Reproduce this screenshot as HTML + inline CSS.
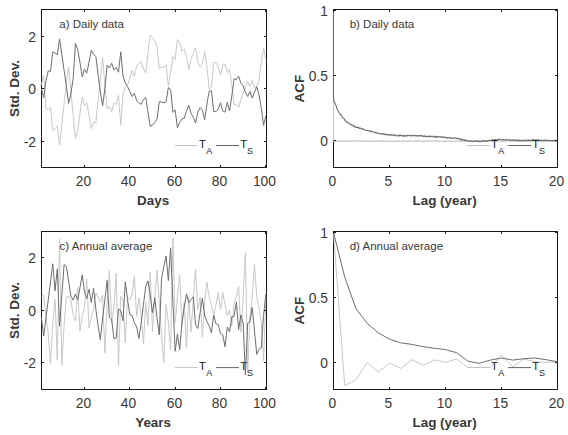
<!DOCTYPE html>
<html><head><meta charset="utf-8"><style>
html,body{margin:0;padding:0;background:#fff;width:568px;height:435px;overflow:hidden}
svg{display:block}
text{font-family:"Liberation Sans",sans-serif}
</style></head><body>
<svg width="568" height="435" viewBox="0 0 568 435">
<rect width="568" height="435" fill="#fff"/>
<rect x="41.5" y="9.5" width="225.00" height="158.00" fill="none" stroke="#1a1a1a" stroke-width="1"/>
<rect x="333.5" y="9.5" width="224.00" height="158.00" fill="none" stroke="#1a1a1a" stroke-width="1"/>
<rect x="41.5" y="231.5" width="225.00" height="158.00" fill="none" stroke="#1a1a1a" stroke-width="1"/>
<rect x="333.5" y="231.5" width="224.00" height="158.00" fill="none" stroke="#1a1a1a" stroke-width="1"/>
<polyline points="41.43,84.56 43.70,75.38 45.96,108.66 48.23,109.42 50.50,107.24 52.76,130.37 55.03,128.40 57.30,126.19 59.56,145.20 61.83,124.44 64.10,103.65 66.36,82.86 68.63,66.87 70.90,91.12 73.16,115.38 75.43,138.16 77.70,130.81 79.96,113.44 82.23,97.06 84.50,105.46 86.76,102.67 89.03,115.64 91.30,128.61 93.56,122.28 95.83,122.57 98.10,101.07 100.36,79.42 102.63,57.76 104.90,85.61 107.16,109.16 109.43,106.53 111.70,111.65 113.96,103.15 116.23,104.43 118.50,95.35 120.76,124.72 123.03,94.25 125.30,86.35 127.56,84.85 129.83,78.00 132.10,70.20 134.36,76.14 136.63,66.11 138.90,63.12 141.16,61.75 143.43,69.00 145.70,72.80 147.96,53.61 150.23,35.13 152.50,37.42 154.76,41.12 157.03,47.05 159.30,68.52 161.56,67.26 163.83,67.76 166.10,64.69 168.36,86.06 170.63,72.20 172.90,56.42 175.16,59.34 177.43,39.54 179.70,41.88 181.96,51.22 184.23,48.84 186.50,56.79 188.76,69.23 191.03,58.99 193.30,53.40 195.56,47.73 197.83,61.46 200.10,67.11 202.36,64.22 204.63,51.33 206.90,65.92 209.16,88.63 211.43,87.48 213.70,62.54 215.96,62.67 218.23,66.61 220.50,75.19 222.76,65.24 225.03,63.85 227.30,72.62 229.56,69.15 231.83,85.51 234.10,104.46 236.36,104.33 238.63,107.35 240.90,99.42 243.16,93.23 245.43,88.03 247.70,81.18 249.96,86.72 252.23,80.34 254.50,87.92 256.76,86.22 259.03,80.76 261.30,62.33 263.56,48.26 265.83,58.97" fill="none" stroke="#c8c8c8" stroke-width="1.0" stroke-linejoin="round"/>
<polyline points="41.43,88.50 43.70,97.69 45.96,80.68 48.23,70.86 50.50,71.28 52.76,51.80 55.03,53.01 57.30,54.90 59.56,38.89 61.83,54.64 64.10,70.39 66.36,86.14 68.63,103.46 70.90,93.62 73.16,78.52 75.43,43.59 77.70,49.26 79.96,62.54 82.23,76.85 84.50,69.02 86.76,73.17 89.03,62.12 91.30,50.20 93.56,54.30 95.83,56.40 98.10,74.72 100.36,91.99 102.63,105.93 104.90,88.34 107.16,65.14 109.43,68.00 111.70,63.22 113.96,69.99 116.23,67.34 118.50,72.22 120.76,51.80 123.03,75.98 125.30,83.01 127.56,86.61 129.83,91.57 132.10,96.56 134.36,93.23 136.63,100.60 138.90,102.70 141.16,104.28 143.43,99.60 145.70,97.50 147.96,111.89 150.23,126.27 152.50,125.14 154.76,122.36 157.03,119.03 159.30,101.65 161.56,102.02 163.83,102.83 166.10,101.70 168.36,87.53 170.63,89.42 172.90,112.36 175.16,109.95 177.43,127.80 179.70,122.49 181.96,118.95 184.23,118.40 186.50,110.94 188.76,105.35 191.03,113.33 193.30,117.32 195.56,122.89 197.83,112.44 200.10,107.48 202.36,110.08 204.63,119.74 206.90,104.12 209.16,91.20 211.43,90.76 213.70,111.55 215.96,111.65 218.23,108.92 220.50,102.67 222.76,111.10 225.03,112.15 227.30,102.31 229.56,111.02 231.83,95.59 234.10,78.84 236.36,79.63 238.63,76.19 240.90,83.09 243.16,85.77 245.43,92.41 247.70,96.45 249.96,91.49 252.23,98.13 254.50,92.10 256.76,86.72 259.03,95.04 261.30,108.19 263.56,125.41 265.83,115.59" fill="none" stroke="#6e6e6e" stroke-width="1.0" stroke-linejoin="round"/>
<line x1="84.50" y1="167.5" x2="84.50" y2="165.0" stroke="#1a1a1a" stroke-width="1"/>
<line x1="84.50" y1="9.5" x2="84.50" y2="12.0" stroke="#1a1a1a" stroke-width="1"/>
<text x="83.40" y="186.1" text-anchor="middle" font-size="13.8" fill="#383838">20</text>
<line x1="129.50" y1="167.5" x2="129.50" y2="165.0" stroke="#1a1a1a" stroke-width="1"/>
<line x1="129.50" y1="9.5" x2="129.50" y2="12.0" stroke="#1a1a1a" stroke-width="1"/>
<text x="128.40" y="186.1" text-anchor="middle" font-size="13.8" fill="#383838">40</text>
<line x1="175.50" y1="167.5" x2="175.50" y2="165.0" stroke="#1a1a1a" stroke-width="1"/>
<line x1="175.50" y1="9.5" x2="175.50" y2="12.0" stroke="#1a1a1a" stroke-width="1"/>
<text x="174.40" y="186.1" text-anchor="middle" font-size="13.8" fill="#383838">60</text>
<line x1="220.50" y1="167.5" x2="220.50" y2="165.0" stroke="#1a1a1a" stroke-width="1"/>
<line x1="220.50" y1="9.5" x2="220.50" y2="12.0" stroke="#1a1a1a" stroke-width="1"/>
<text x="219.40" y="186.1" text-anchor="middle" font-size="13.8" fill="#383838">80</text>
<line x1="265.50" y1="167.5" x2="265.50" y2="165.0" stroke="#1a1a1a" stroke-width="1"/>
<line x1="265.50" y1="9.5" x2="265.50" y2="12.0" stroke="#1a1a1a" stroke-width="1"/>
<text x="264.40" y="186.1" text-anchor="middle" font-size="13.8" fill="#383838">100</text>
<line x1="41.5" y1="141.50" x2="44.0" y2="141.50" stroke="#1a1a1a" stroke-width="1"/>
<line x1="266.5" y1="141.50" x2="264.0" y2="141.50" stroke="#1a1a1a" stroke-width="1"/>
<text x="36.0" y="146.90" text-anchor="end" font-size="13.8" fill="#383838">-2</text>
<line x1="41.5" y1="88.50" x2="44.0" y2="88.50" stroke="#1a1a1a" stroke-width="1"/>
<line x1="266.5" y1="88.50" x2="264.0" y2="88.50" stroke="#1a1a1a" stroke-width="1"/>
<text x="36.0" y="93.90" text-anchor="end" font-size="13.8" fill="#383838">0</text>
<line x1="41.5" y1="36.50" x2="44.0" y2="36.50" stroke="#1a1a1a" stroke-width="1"/>
<line x1="266.5" y1="36.50" x2="264.0" y2="36.50" stroke="#1a1a1a" stroke-width="1"/>
<text x="36.0" y="41.90" text-anchor="end" font-size="13.8" fill="#383838">2</text>
<text x="59.3" y="27.7" font-size="11.5" fill="#383838">a) Daily data</text>
<text x="153.10" y="205.0" text-anchor="middle" font-size="13.4" font-weight="bold" fill="#383838">Days</text>
<text transform="translate(19.2,88.50) rotate(-90)" text-anchor="middle" font-size="13.5" font-weight="bold" fill="#383838">Std. Dev.</text>
<line x1="175" y1="145.5" x2="197.6" y2="145.5" stroke="#c4c4c4" stroke-width="1"/>
<text x="199" y="148.0" font-size="11.3" fill="#222">T</text>
<text x="206.2" y="153.5" font-size="9" fill="#262626">A</text>
<line x1="216" y1="145.5" x2="239" y2="145.5" stroke="#646464" stroke-width="1"/>
<text x="240.2" y="148.0" font-size="11.3" fill="#222">T</text>
<text x="247" y="153.5" font-size="9" fill="#262626">S</text>
<polyline points="333.50,10.50 333.51,141.20 333.61,141.47 334.06,141.15 334.51,141.33 334.96,141.09 335.40,141.07 335.85,141.65 336.30,141.70 336.75,140.85 337.20,141.45 337.64,141.47 338.09,140.68 338.54,141.23 338.99,140.85 339.44,141.22 339.88,141.05 340.33,141.56 340.78,141.05 341.23,140.81 341.68,141.17 342.12,140.94 342.57,141.01 343.02,141.64 343.47,140.92 343.92,141.10 344.36,141.40 344.81,141.68 345.26,140.81 345.71,141.22 346.16,140.96 346.60,140.79 347.05,140.97 347.50,140.75 347.95,141.30 348.40,140.87 348.84,141.24 349.29,140.73 349.74,140.79 350.19,141.60 350.64,141.56 351.08,141.48 351.53,140.70 351.98,141.25 352.43,141.05 352.88,141.39 353.32,141.17 353.77,141.30 354.22,141.34 354.67,141.09 355.12,141.09 355.56,140.76 356.01,140.99 356.46,140.73 356.91,140.81 357.36,140.67 357.80,141.00 358.25,141.53 358.70,140.80 359.15,140.69 359.60,140.76 360.04,141.10 360.49,140.95 360.94,141.48 361.39,140.83 361.84,141.10 362.28,141.40 362.73,141.63 363.18,140.81 363.63,140.66 364.08,141.60 364.52,140.86 364.97,141.27 365.42,141.53 365.87,141.39 366.32,140.89 366.76,140.78 367.21,141.64 367.66,141.05 368.11,141.64 368.56,140.94 369.00,141.34 369.45,140.77 369.90,140.67 370.35,141.16 370.80,140.65 371.24,141.36 371.69,141.61 372.14,141.06 372.59,141.65 373.04,141.48 373.48,141.26 373.93,141.05 374.38,141.52 374.83,141.64 375.28,140.78 375.72,141.36 376.17,140.68 376.62,140.75 377.07,141.29 377.52,141.20 377.96,141.14 378.41,141.01 378.86,141.06 379.31,141.10 379.76,141.03 380.20,140.70 380.65,141.15 381.10,141.23 381.55,140.93 382.00,141.43 382.44,141.36 382.89,140.66 383.34,141.13 383.79,141.10 384.24,141.66 384.68,141.24 385.13,141.07 385.58,141.65 386.03,141.03 386.48,141.02 386.92,141.61 387.37,141.02 387.82,141.19 388.27,140.96 388.72,141.30 389.16,140.94 389.61,140.90 390.06,141.65 390.51,141.61 390.96,140.97 391.40,140.67 391.85,141.41 392.30,141.19 392.75,141.05 393.20,141.33 393.64,141.29 394.09,141.34 394.54,141.28 394.99,141.05 395.44,141.35 395.88,141.27 396.33,140.86 396.78,141.64 397.23,141.07 397.68,140.90 398.12,141.34 398.57,141.43 399.02,140.83 399.47,141.41 399.92,141.47 400.36,141.21 400.81,140.93 401.26,141.55 401.71,141.32 402.16,141.31 402.60,140.79 403.05,141.20 403.50,140.77 403.95,141.48 404.40,141.31 404.84,140.98 405.29,140.74 405.74,141.19 406.19,141.42 406.64,141.53 407.08,141.10 407.53,141.46 407.98,140.81 408.43,140.78 408.88,141.46 409.32,141.36 409.77,140.81 410.22,140.98 410.67,140.81 411.12,141.29 411.56,141.52 412.01,141.35 412.46,140.82 412.91,141.37 413.36,141.29 413.80,141.21 414.25,141.21 414.70,141.22 415.15,140.69 415.60,141.48 416.04,141.64 416.49,140.66 416.94,140.73 417.39,140.62 417.84,141.19 418.28,140.66 418.73,140.68 419.18,141.41 419.63,140.87 420.08,140.77 420.52,140.95 420.97,141.10 421.42,141.34 421.87,141.29 422.32,141.40 422.76,141.57 423.21,141.03 423.66,141.34 424.11,140.80 424.56,141.59 425.00,140.70 425.45,140.92 425.90,140.68 426.35,140.70 426.80,140.70 427.24,141.04 427.69,141.62 428.14,140.86 428.59,141.46 429.04,141.32 429.48,140.94 429.93,141.09 430.38,141.20 430.83,140.66 431.28,141.00 431.72,141.28 432.17,141.37 432.62,140.74 433.07,141.13 433.52,140.82 433.96,141.26 434.41,141.42 434.86,141.07 435.31,140.78 435.76,141.45 436.20,140.80 436.65,140.67 437.10,140.79 437.55,140.77 438.00,141.62 438.44,140.97 438.89,140.73 439.34,141.57 439.79,141.34 440.24,141.35 440.68,141.08 441.13,141.18 441.58,141.13 442.03,140.82 442.48,141.62 442.92,141.57 443.37,141.49 443.82,141.49 444.27,141.55 444.72,140.61 445.16,140.73 445.61,141.53 446.06,141.10 446.51,141.29 446.96,141.29 447.40,141.25 447.85,140.95 448.30,141.01 448.75,141.24 449.20,141.42 449.64,141.27 450.09,141.49 450.54,141.04 450.99,140.87 451.44,141.22 451.88,141.53 452.33,141.43 452.78,141.23 453.23,140.98 453.68,140.80 454.12,141.22 454.57,140.78 455.02,140.96 455.47,141.16 455.92,141.22 456.36,141.09 456.81,140.88 457.26,141.17 457.71,140.89 458.16,141.13 458.60,141.35 459.05,141.05 459.50,140.88 459.95,141.53 460.40,141.16 460.84,141.16 461.29,140.69 461.74,140.63 462.19,141.22 462.64,140.67 463.08,140.78 463.53,141.33 463.98,141.12 464.43,141.47 464.88,140.76 465.32,140.91 465.77,140.68 466.22,140.78 466.67,140.91 467.12,140.84 467.56,141.01 468.01,141.49 468.46,140.99 468.91,141.59 469.36,141.45 469.80,140.79 470.25,141.55 470.70,141.50 471.15,141.49 471.60,140.68 472.04,141.41 472.49,141.57 472.94,140.72 473.39,141.47 473.84,140.72 474.28,140.89 474.73,140.72 475.18,140.60 475.63,140.99 476.08,140.76 476.52,141.55 476.97,140.79 477.42,141.06 477.87,140.85 478.32,141.48 478.76,140.81 479.21,140.62 479.66,141.53 480.11,141.25 480.56,141.00 481.00,140.73 481.45,141.34 481.90,141.40 482.35,141.33 482.80,140.95 483.24,140.80 483.69,141.18 484.14,141.20 484.59,141.17 485.04,141.22 485.48,141.15 485.93,141.50 486.38,141.06 486.83,140.57 487.28,141.15 487.72,140.80 488.17,141.41 488.62,140.86 489.07,140.79 489.52,140.88 489.96,141.04 490.41,141.08 490.86,140.91 491.31,140.65 491.76,141.42 492.20,141.48 492.65,140.80 493.10,140.62 493.55,141.04 494.00,141.12 494.44,140.83 494.89,141.38 495.34,141.30 495.79,141.37 496.24,140.97 496.68,141.25 497.13,141.33 497.58,140.85 498.03,140.58 498.48,141.26 498.92,140.84 499.37,141.14 499.82,140.68 500.27,140.96 500.72,141.29 501.16,141.34 501.61,141.55 502.06,141.07 502.51,141.17 502.96,141.39 503.40,141.19 503.85,141.23 504.30,140.76 504.75,141.42 505.20,140.54 505.64,141.07 506.09,140.94 506.54,141.08 506.99,140.70 507.44,140.71 507.88,140.98 508.33,141.06 508.78,140.81 509.23,140.67 509.68,141.15 510.12,140.80 510.57,140.56 511.02,141.08 511.47,141.32 511.92,141.32 512.36,140.81 512.81,140.86 513.26,140.56 513.71,140.67 514.16,141.31 514.60,141.36 515.05,141.29 515.50,141.36 515.95,140.82 516.40,140.66 516.84,140.62 517.29,141.29 517.74,140.66 518.19,141.23 518.64,141.11 519.08,140.80 519.53,141.46 519.98,141.46 520.43,140.69 520.88,141.25 521.32,141.18 521.77,140.95 522.22,140.85 522.67,141.54 523.12,141.20 523.56,141.10 524.01,141.04 524.46,141.33 524.91,140.94 525.36,140.56 525.80,141.14 526.25,140.98 526.70,141.42 527.15,141.26 527.60,140.85 528.04,141.43 528.49,140.62 528.94,140.60 529.39,141.44 529.84,140.57 530.28,141.16 530.73,140.74 531.18,140.76 531.63,141.24 532.08,140.84 532.52,140.86 532.97,140.70 533.42,141.27 533.87,140.76 534.32,140.54 534.76,140.84 535.21,140.98 535.66,141.42 536.11,141.03 536.56,141.17 537.00,140.79 537.45,140.83 537.90,140.95 538.35,141.35 538.80,140.87 539.24,140.88 539.69,141.35 540.14,140.61 540.59,140.85 541.04,141.41 541.48,140.57 541.93,141.39 542.38,141.19 542.83,140.78 543.28,140.91 543.72,140.96 544.17,140.86 544.62,141.06 545.07,141.21 545.52,141.35 545.96,141.46 546.41,140.79 546.86,140.74 547.31,140.96 547.76,140.76 548.20,141.15 548.65,141.25 549.10,141.13 549.55,140.62 550.00,141.48 550.44,141.00 550.89,141.27 551.34,140.73 551.79,141.16 552.24,141.18 552.68,141.10 553.13,140.96 553.58,140.72 554.03,141.16 554.48,140.64 554.92,141.41 555.37,141.24 555.82,141.42 556.27,141.40 556.72,140.71 557.16,140.76" fill="none" stroke="#c8c8c8" stroke-width="1.1" stroke-linejoin="round"/>
<polyline points="333.50,10.50 333.51,98.00 333.61,98.95 334.06,101.37 334.51,102.22 334.96,102.97 335.40,103.98 335.85,105.13 336.30,106.38 336.75,107.93 337.20,108.76 337.64,110.06 338.09,110.71 338.54,111.37 338.99,112.45 339.44,113.10 339.88,113.25 340.33,114.73 340.78,114.62 341.23,115.23 341.68,115.87 342.12,117.15 342.57,117.48 343.02,117.95 343.47,118.40 343.92,118.55 344.36,119.35 344.81,120.26 345.26,120.18 345.71,121.08 346.16,121.43 346.60,121.57 347.05,122.59 347.50,122.06 347.95,122.44 348.40,122.89 348.84,123.12 349.29,123.46 349.74,124.00 350.19,123.92 350.64,124.70 351.08,124.49 351.53,124.61 351.98,125.09 352.43,125.23 352.88,125.09 353.32,125.43 353.77,126.48 354.22,126.04 354.67,126.37 355.12,127.12 355.56,126.95 356.01,127.24 356.46,127.55 356.91,127.23 357.36,126.98 357.80,127.76 358.25,127.35 358.70,127.69 359.15,128.43 359.60,127.83 360.04,128.25 360.49,128.07 360.94,128.44 361.39,128.57 361.84,129.14 362.28,128.80 362.73,128.79 363.18,128.98 363.63,129.54 364.08,129.33 364.52,129.73 364.97,130.23 365.42,130.42 365.87,130.50 366.32,130.49 366.76,130.65 367.21,130.42 367.66,130.33 368.11,130.61 368.56,130.85 369.00,130.73 369.45,131.21 369.90,131.16 370.35,130.97 370.80,131.44 371.24,131.78 371.69,131.13 372.14,131.43 372.59,131.90 373.04,132.00 373.48,131.94 373.93,131.98 374.38,132.47 374.83,132.80 375.28,132.69 375.72,132.20 376.17,132.97 376.62,132.75 377.07,133.13 377.52,133.22 377.96,133.36 378.41,133.22 378.86,133.54 379.31,133.76 379.76,133.74 380.20,133.75 380.65,133.49 381.10,134.01 381.55,134.12 382.00,133.75 382.44,133.87 382.89,133.63 383.34,134.39 383.79,134.09 384.24,134.17 384.68,134.63 385.13,133.73 385.58,134.58 386.03,134.78 386.48,134.44 386.92,134.81 387.37,134.38 387.82,134.71 388.27,134.99 388.72,135.10 389.16,134.45 389.61,134.96 390.06,134.47 390.51,134.85 390.96,134.41 391.40,135.11 391.85,135.21 392.30,135.24 392.75,134.71 393.20,134.95 393.64,135.29 394.09,135.59 394.54,135.02 394.99,134.75 395.44,135.17 395.88,135.82 396.33,135.82 396.78,135.79 397.23,135.74 397.68,135.91 398.12,135.92 398.57,135.32 399.02,135.10 399.47,135.86 399.92,135.08 400.36,135.63 400.81,135.32 401.26,135.23 401.71,135.24 402.16,136.21 402.60,135.96 403.05,135.68 403.50,135.33 403.95,136.21 404.40,135.99 404.84,135.41 405.29,136.16 405.74,135.87 406.19,135.92 406.64,135.55 407.08,135.28 407.53,136.06 407.98,135.46 408.43,135.46 408.88,135.35 409.32,135.63 409.77,135.24 410.22,135.81 410.67,135.75 411.12,135.93 411.56,135.35 412.01,135.66 412.46,135.87 412.91,135.96 413.36,135.38 413.80,135.49 414.25,135.39 414.70,135.75 415.15,135.67 415.60,136.04 416.04,135.48 416.49,136.22 416.94,135.78 417.39,135.50 417.84,135.60 418.28,136.23 418.73,136.11 419.18,135.50 419.63,135.73 420.08,135.51 420.52,135.53 420.97,136.00 421.42,135.55 421.87,135.75 422.32,136.18 422.76,136.17 423.21,136.50 423.66,136.18 424.11,135.62 424.56,136.53 425.00,136.07 425.45,136.57 425.90,136.62 426.35,136.05 426.80,136.50 427.24,136.72 427.69,136.64 428.14,136.15 428.59,136.23 429.04,136.86 429.48,136.65 429.93,135.91 430.38,136.71 430.83,136.38 431.28,136.56 431.72,136.21 432.17,136.42 432.62,136.25 433.07,136.54 433.52,136.93 433.96,136.96 434.41,137.09 434.86,136.34 435.31,137.11 435.76,137.22 436.20,136.27 436.65,137.09 437.10,136.40 437.55,137.26 438.00,136.89 438.44,137.17 438.89,136.56 439.34,136.81 439.79,136.81 440.24,136.71 440.68,136.62 441.13,137.19 441.58,136.95 442.03,137.14 442.48,137.52 442.92,136.81 443.37,137.11 443.82,136.92 444.27,137.60 444.72,137.30 445.16,137.42 445.61,137.19 446.06,137.92 446.51,137.68 446.96,137.58 447.40,138.06 447.85,137.60 448.30,137.46 448.75,137.83 449.20,137.64 449.64,137.72 450.09,138.18 450.54,138.08 450.99,137.45 451.44,138.18 451.88,138.13 452.33,138.54 452.78,138.44 453.23,138.54 453.68,137.79 454.12,138.05 454.57,137.94 455.02,137.87 455.47,138.30 455.92,138.01 456.36,138.48 456.81,138.69 457.26,138.22 457.71,138.36 458.16,138.40 458.60,138.97 459.05,138.76 459.50,139.23 459.95,138.70 460.40,138.87 460.84,139.61 461.29,139.03 461.74,139.90 462.19,140.08 462.64,139.52 463.08,140.05 463.53,139.90 463.98,139.86 464.43,140.57 464.88,139.92 465.32,140.49 465.77,140.41 466.22,140.59 466.67,140.26 467.12,140.33 467.56,140.89 468.01,141.17 468.46,141.05 468.91,141.02 469.36,141.45 469.80,141.45 470.25,140.90 470.70,140.99 471.15,140.71 471.60,140.71 472.04,140.83 472.49,141.35 472.94,141.58 473.39,141.43 473.84,141.27 474.28,141.21 474.73,141.20 475.18,141.40 475.63,140.89 476.08,141.48 476.52,141.30 476.97,140.87 477.42,140.95 477.87,141.49 478.32,141.55 478.76,140.97 479.21,141.80 479.66,141.68 480.11,141.26 480.56,141.21 481.00,141.56 481.45,141.64 481.90,141.44 482.35,140.81 482.80,141.09 483.24,140.51 483.69,140.67 484.14,140.43 484.59,141.37 485.04,141.18 485.48,141.32 485.93,140.84 486.38,140.90 486.83,141.16 487.28,140.60 487.72,141.03 488.17,140.76 488.62,140.79 489.07,140.17 489.52,140.53 489.96,140.66 490.41,140.84 490.86,140.40 491.31,140.16 491.76,140.07 492.20,139.78 492.65,139.85 493.10,140.39 493.55,140.47 494.00,139.78 494.44,139.71 494.89,139.96 495.34,139.58 495.79,139.83 496.24,140.08 496.68,140.15 497.13,140.27 497.58,139.58 498.03,139.27 498.48,139.22 498.92,139.64 499.37,139.44 499.82,139.19 500.27,139.33 500.72,139.57 501.16,139.78 501.61,139.69 502.06,140.07 502.51,140.08 502.96,139.58 503.40,139.28 503.85,139.76 504.30,139.92 504.75,140.00 505.20,139.91 505.64,139.57 506.09,139.95 506.54,139.45 506.99,140.30 507.44,140.15 507.88,139.96 508.33,140.09 508.78,139.65 509.23,139.70 509.68,139.61 510.12,139.96 510.57,140.58 511.02,140.04 511.47,140.08 511.92,140.17 512.36,140.40 512.81,139.97 513.26,139.78 513.71,140.64 514.16,140.07 514.60,140.40 515.05,140.27 515.50,139.90 515.95,139.85 516.40,140.20 516.84,140.68 517.29,139.95 517.74,140.73 518.19,140.54 518.64,140.10 519.08,140.65 519.53,140.72 519.98,140.03 520.43,140.03 520.88,140.66 521.32,140.57 521.77,140.68 522.22,140.82 522.67,140.68 523.12,139.91 523.56,140.84 524.01,140.67 524.46,140.68 524.91,140.80 525.36,140.32 525.80,140.08 526.25,139.97 526.70,140.17 527.15,139.97 527.60,140.80 528.04,140.50 528.49,139.78 528.94,140.69 529.39,140.47 529.84,140.24 530.28,140.45 530.73,140.15 531.18,140.65 531.63,140.44 532.08,139.68 532.52,140.51 532.97,139.71 533.42,140.45 533.87,139.59 534.32,139.93 534.76,139.97 535.21,140.51 535.66,140.61 536.11,139.89 536.56,140.51 537.00,140.51 537.45,139.87 537.90,139.83 538.35,140.70 538.80,139.76 539.24,140.22 539.69,140.39 540.14,140.69 540.59,140.41 541.04,139.80 541.48,140.55 541.93,140.72 542.38,140.72 542.83,140.75 543.28,140.53 543.72,139.96 544.17,140.84 544.62,140.74 545.07,139.97 545.52,139.93 545.96,139.96 546.41,140.74 546.86,140.64 547.31,140.03 547.76,140.53 548.20,140.31 548.65,140.73 549.10,141.05 549.55,140.73 550.00,140.32 550.44,140.30 550.89,140.53 551.34,140.66 551.79,140.59 552.24,140.71 552.68,140.62 553.13,140.33 553.58,141.00 554.03,140.60 554.48,140.26 554.92,140.36 555.37,141.07 555.82,140.27 556.27,140.41 556.72,141.12 557.16,141.04" fill="none" stroke="#6e6e6e" stroke-width="1.1" stroke-linejoin="round"/>
<line x1="333.50" y1="167.5" x2="333.50" y2="165.0" stroke="#1a1a1a" stroke-width="1"/>
<line x1="333.50" y1="9.5" x2="333.50" y2="12.0" stroke="#1a1a1a" stroke-width="1"/>
<text x="332.40" y="186.1" text-anchor="middle" font-size="13.8" fill="#383838">0</text>
<line x1="389.50" y1="167.5" x2="389.50" y2="165.0" stroke="#1a1a1a" stroke-width="1"/>
<line x1="389.50" y1="9.5" x2="389.50" y2="12.0" stroke="#1a1a1a" stroke-width="1"/>
<text x="388.40" y="186.1" text-anchor="middle" font-size="13.8" fill="#383838">5</text>
<line x1="445.50" y1="167.5" x2="445.50" y2="165.0" stroke="#1a1a1a" stroke-width="1"/>
<line x1="445.50" y1="9.5" x2="445.50" y2="12.0" stroke="#1a1a1a" stroke-width="1"/>
<text x="444.40" y="186.1" text-anchor="middle" font-size="13.8" fill="#383838">10</text>
<line x1="501.50" y1="167.5" x2="501.50" y2="165.0" stroke="#1a1a1a" stroke-width="1"/>
<line x1="501.50" y1="9.5" x2="501.50" y2="12.0" stroke="#1a1a1a" stroke-width="1"/>
<text x="500.40" y="186.1" text-anchor="middle" font-size="13.8" fill="#383838">15</text>
<line x1="557.50" y1="167.5" x2="557.50" y2="165.0" stroke="#1a1a1a" stroke-width="1"/>
<line x1="557.50" y1="9.5" x2="557.50" y2="12.0" stroke="#1a1a1a" stroke-width="1"/>
<text x="556.40" y="186.1" text-anchor="middle" font-size="13.8" fill="#383838">20</text>
<line x1="333.5" y1="140.50" x2="336.0" y2="140.50" stroke="#1a1a1a" stroke-width="1"/>
<line x1="557.5" y1="140.50" x2="555.0" y2="140.50" stroke="#1a1a1a" stroke-width="1"/>
<text x="328.0" y="145.90" text-anchor="end" font-size="13.8" fill="#383838">0</text>
<line x1="333.5" y1="75.50" x2="336.0" y2="75.50" stroke="#1a1a1a" stroke-width="1"/>
<line x1="557.5" y1="75.50" x2="555.0" y2="75.50" stroke="#1a1a1a" stroke-width="1"/>
<text x="328.0" y="80.90" text-anchor="end" font-size="13.8" fill="#383838">0.5</text>
<line x1="333.5" y1="10.50" x2="336.0" y2="10.50" stroke="#1a1a1a" stroke-width="1"/>
<line x1="557.5" y1="10.50" x2="555.0" y2="10.50" stroke="#1a1a1a" stroke-width="1"/>
<text x="328.0" y="15.90" text-anchor="end" font-size="13.8" fill="#383838">1</text>
<text x="349.7" y="27.7" font-size="11.5" fill="#383838">b) Daily data</text>
<text x="444.60" y="205.0" text-anchor="middle" font-size="13.4" font-weight="bold" fill="#383838">Lag (year)</text>
<text transform="translate(303.5,88.50) rotate(-90)" text-anchor="middle" font-size="13.5" font-weight="bold" fill="#383838">ACF</text>
<line x1="467" y1="145.5" x2="489.6" y2="145.5" stroke="#c4c4c4" stroke-width="1"/>
<text x="491" y="148.0" font-size="11.3" fill="#222">T</text>
<text x="498.2" y="153.5" font-size="9" fill="#262626">A</text>
<line x1="508" y1="145.5" x2="531" y2="145.5" stroke="#646464" stroke-width="1"/>
<text x="532.2" y="148.0" font-size="11.3" fill="#222">T</text>
<text x="539" y="153.5" font-size="9" fill="#262626">S</text>
<polyline points="41.43,296.09 43.70,295.04 45.96,316.04 48.23,333.62 50.50,363.81 52.76,323.12 55.03,299.50 57.30,359.88 59.56,238.60 61.83,365.12 64.10,325.75 66.36,296.88 68.63,296.09 70.90,300.02 73.16,315.25 75.43,321.02 77.70,287.43 79.96,331.00 82.23,315.25 84.50,307.38 86.76,278.76 89.03,327.85 91.30,317.88 93.56,310.00 95.83,292.94 98.10,296.88 100.36,302.12 102.63,295.04 104.90,352.79 107.16,304.75 109.43,270.62 111.70,323.12 113.96,307.38 116.23,273.25 118.50,365.91 120.76,296.35 123.03,301.07 125.30,342.55 127.56,296.88 129.83,300.02 132.10,294.25 134.36,275.88 136.63,316.56 138.90,297.93 141.16,315.25 143.43,344.12 145.70,302.12 147.96,325.75 150.23,271.94 152.50,332.05 154.76,296.88 157.03,270.10 159.30,302.12 161.56,336.25 163.83,362.76 166.10,304.75 168.36,323.12 170.63,349.64 172.90,238.07 175.16,323.12 177.43,296.88 179.70,275.09 181.96,325.75 184.23,302.12 186.50,347.54 188.76,296.88 191.03,332.05 193.30,299.50 195.56,269.05 197.83,310.00 200.10,296.88 202.36,337.04 204.63,302.12 206.90,282.17 209.16,296.88 211.43,304.75 213.70,314.99 215.96,304.75 218.23,292.68 220.50,310.00 222.76,292.68 225.03,304.75 227.30,315.51 229.56,310.00 231.83,325.75 234.10,302.12 236.36,296.88 238.63,286.11 240.90,332.31 243.16,296.88 245.43,252.78 247.70,373.00 249.96,317.88 252.23,296.88 254.50,264.85 256.76,296.88 259.03,306.85 261.30,323.12 263.56,360.66 265.83,296.88" fill="none" stroke="#c8c8c8" stroke-width="1.0" stroke-linejoin="round"/>
<polyline points="41.43,317.88 43.70,335.99 45.96,317.88 48.23,299.76 50.50,281.91 52.76,263.80 55.03,290.84 57.30,268.79 59.56,326.27 61.83,295.56 64.10,264.59 66.36,266.69 68.63,281.12 70.90,296.09 73.16,300.02 75.43,293.99 77.70,300.02 79.96,287.69 82.23,274.82 84.50,291.89 86.76,298.45 89.03,289.26 91.30,302.65 93.56,288.48 95.83,309.21 98.10,325.75 100.36,339.93 102.63,317.88 104.90,299.50 107.16,280.34 109.43,317.61 111.70,319.71 113.96,338.88 116.23,337.82 118.50,309.21 120.76,310.52 123.03,320.76 125.30,281.91 127.56,299.50 129.83,314.73 132.10,315.51 134.36,322.86 136.63,326.80 138.90,338.35 141.16,323.12 143.43,304.75 145.70,286.38 147.96,280.86 150.23,295.82 152.50,312.62 154.76,297.66 157.03,317.88 159.30,334.94 161.56,278.50 163.83,266.69 166.10,255.92 168.36,280.60 170.63,247.79 172.90,302.12 175.16,351.21 177.43,333.89 179.70,349.64 181.96,323.12 184.23,307.38 186.50,293.73 188.76,302.91 191.03,299.50 193.30,296.88 195.56,324.96 197.83,328.38 200.10,312.62 202.36,298.45 204.63,315.25 206.90,321.55 209.16,325.75 211.43,333.10 213.70,314.99 215.96,323.65 218.23,324.70 220.50,333.62 222.76,334.68 225.03,346.75 227.30,327.06 229.56,331.79 231.83,316.82 234.10,316.30 236.36,301.86 238.63,329.69 240.90,314.99 243.16,323.12 245.43,374.84 247.70,323.12 249.96,321.81 252.23,307.38 254.50,331.00 256.76,354.36 259.03,349.38 261.30,347.80 263.56,315.25 265.83,294.25" fill="none" stroke="#6e6e6e" stroke-width="1.0" stroke-linejoin="round"/>
<line x1="84.50" y1="389.5" x2="84.50" y2="387.0" stroke="#1a1a1a" stroke-width="1"/>
<line x1="84.50" y1="231.5" x2="84.50" y2="234.0" stroke="#1a1a1a" stroke-width="1"/>
<text x="83.40" y="408.1" text-anchor="middle" font-size="13.8" fill="#383838">20</text>
<line x1="129.50" y1="389.5" x2="129.50" y2="387.0" stroke="#1a1a1a" stroke-width="1"/>
<line x1="129.50" y1="231.5" x2="129.50" y2="234.0" stroke="#1a1a1a" stroke-width="1"/>
<text x="128.40" y="408.1" text-anchor="middle" font-size="13.8" fill="#383838">40</text>
<line x1="175.50" y1="389.5" x2="175.50" y2="387.0" stroke="#1a1a1a" stroke-width="1"/>
<line x1="175.50" y1="231.5" x2="175.50" y2="234.0" stroke="#1a1a1a" stroke-width="1"/>
<text x="174.40" y="408.1" text-anchor="middle" font-size="13.8" fill="#383838">60</text>
<line x1="220.50" y1="389.5" x2="220.50" y2="387.0" stroke="#1a1a1a" stroke-width="1"/>
<line x1="220.50" y1="231.5" x2="220.50" y2="234.0" stroke="#1a1a1a" stroke-width="1"/>
<text x="219.40" y="408.1" text-anchor="middle" font-size="13.8" fill="#383838">80</text>
<line x1="265.50" y1="389.5" x2="265.50" y2="387.0" stroke="#1a1a1a" stroke-width="1"/>
<line x1="265.50" y1="231.5" x2="265.50" y2="234.0" stroke="#1a1a1a" stroke-width="1"/>
<text x="264.40" y="408.1" text-anchor="middle" font-size="13.8" fill="#383838">100</text>
<line x1="41.5" y1="362.50" x2="44.0" y2="362.50" stroke="#1a1a1a" stroke-width="1"/>
<line x1="266.5" y1="362.50" x2="264.0" y2="362.50" stroke="#1a1a1a" stroke-width="1"/>
<text x="36.0" y="367.90" text-anchor="end" font-size="13.8" fill="#383838">-2</text>
<line x1="41.5" y1="310.50" x2="44.0" y2="310.50" stroke="#1a1a1a" stroke-width="1"/>
<line x1="266.5" y1="310.50" x2="264.0" y2="310.50" stroke="#1a1a1a" stroke-width="1"/>
<text x="36.0" y="315.90" text-anchor="end" font-size="13.8" fill="#383838">0</text>
<line x1="41.5" y1="257.50" x2="44.0" y2="257.50" stroke="#1a1a1a" stroke-width="1"/>
<line x1="266.5" y1="257.50" x2="264.0" y2="257.50" stroke="#1a1a1a" stroke-width="1"/>
<text x="36.0" y="262.90" text-anchor="end" font-size="13.8" fill="#383838">2</text>
<text x="59.6" y="249.7" font-size="11.5" fill="#383838">c) Annual average</text>
<text x="153.10" y="427.0" text-anchor="middle" font-size="13.4" font-weight="bold" fill="#383838">Years</text>
<text transform="translate(19.2,310.50) rotate(-90)" text-anchor="middle" font-size="13.5" font-weight="bold" fill="#383838">Std. Dev.</text>
<line x1="175" y1="367.6" x2="197.6" y2="367.6" stroke="#c4c4c4" stroke-width="1"/>
<text x="199" y="370.1" font-size="11.3" fill="#222">T</text>
<text x="206.2" y="375.6" font-size="9" fill="#262626">A</text>
<line x1="216" y1="367.6" x2="239" y2="367.6" stroke="#646464" stroke-width="1"/>
<text x="240.2" y="370.1" font-size="11.3" fill="#222">T</text>
<text x="247" y="375.6" font-size="9" fill="#262626">S</text>
<polyline points="333.50,232.50 344.70,385.70 355.90,380.00 367.10,362.40 378.30,372.00 389.50,363.10 400.70,368.40 411.90,359.70 423.10,365.20 434.30,359.90 445.50,362.30 456.70,359.10 467.90,367.50 479.10,367.50 490.30,367.50 501.50,354.90 512.70,366.90 523.90,359.10 535.10,361.80 546.30,362.30 557.50,361.80" fill="none" stroke="#c8c8c8" stroke-width="1.0" stroke-linejoin="round"/>
<polyline points="333.50,232.50 344.70,276.90 355.90,308.50 367.10,323.30 378.30,332.80 389.50,339.20 400.70,342.80 411.90,344.40 423.10,346.60 434.30,348.30 445.50,349.60 456.70,352.70 467.90,361.20 479.10,363.30 490.30,360.10 501.50,358.00 512.70,360.10 523.90,358.70 535.10,358.00 546.30,359.70 557.50,361.80" fill="none" stroke="#6e6e6e" stroke-width="1.0" stroke-linejoin="round"/>
<line x1="333.50" y1="389.5" x2="333.50" y2="387.0" stroke="#1a1a1a" stroke-width="1"/>
<line x1="333.50" y1="231.5" x2="333.50" y2="234.0" stroke="#1a1a1a" stroke-width="1"/>
<text x="332.40" y="408.1" text-anchor="middle" font-size="13.8" fill="#383838">0</text>
<line x1="389.50" y1="389.5" x2="389.50" y2="387.0" stroke="#1a1a1a" stroke-width="1"/>
<line x1="389.50" y1="231.5" x2="389.50" y2="234.0" stroke="#1a1a1a" stroke-width="1"/>
<text x="388.40" y="408.1" text-anchor="middle" font-size="13.8" fill="#383838">5</text>
<line x1="445.50" y1="389.5" x2="445.50" y2="387.0" stroke="#1a1a1a" stroke-width="1"/>
<line x1="445.50" y1="231.5" x2="445.50" y2="234.0" stroke="#1a1a1a" stroke-width="1"/>
<text x="444.40" y="408.1" text-anchor="middle" font-size="13.8" fill="#383838">10</text>
<line x1="501.50" y1="389.5" x2="501.50" y2="387.0" stroke="#1a1a1a" stroke-width="1"/>
<line x1="501.50" y1="231.5" x2="501.50" y2="234.0" stroke="#1a1a1a" stroke-width="1"/>
<text x="500.40" y="408.1" text-anchor="middle" font-size="13.8" fill="#383838">15</text>
<line x1="557.50" y1="389.5" x2="557.50" y2="387.0" stroke="#1a1a1a" stroke-width="1"/>
<line x1="557.50" y1="231.5" x2="557.50" y2="234.0" stroke="#1a1a1a" stroke-width="1"/>
<text x="556.40" y="408.1" text-anchor="middle" font-size="13.8" fill="#383838">20</text>
<line x1="333.5" y1="362.50" x2="336.0" y2="362.50" stroke="#1a1a1a" stroke-width="1"/>
<line x1="557.5" y1="362.50" x2="555.0" y2="362.50" stroke="#1a1a1a" stroke-width="1"/>
<text x="328.0" y="367.90" text-anchor="end" font-size="13.8" fill="#383838">0</text>
<line x1="333.5" y1="297.50" x2="336.0" y2="297.50" stroke="#1a1a1a" stroke-width="1"/>
<line x1="557.5" y1="297.50" x2="555.0" y2="297.50" stroke="#1a1a1a" stroke-width="1"/>
<text x="328.0" y="302.90" text-anchor="end" font-size="13.8" fill="#383838">0.5</text>
<line x1="333.5" y1="232.50" x2="336.0" y2="232.50" stroke="#1a1a1a" stroke-width="1"/>
<line x1="557.5" y1="232.50" x2="555.0" y2="232.50" stroke="#1a1a1a" stroke-width="1"/>
<text x="328.0" y="237.90" text-anchor="end" font-size="13.8" fill="#383838">1</text>
<text x="349.7" y="249.7" font-size="11.5" fill="#383838">d) Annual average</text>
<text x="444.60" y="427.0" text-anchor="middle" font-size="13.4" font-weight="bold" fill="#383838">Lag (year)</text>
<text transform="translate(303.5,310.50) rotate(-90)" text-anchor="middle" font-size="13.5" font-weight="bold" fill="#383838">ACF</text>
<line x1="467" y1="367.6" x2="489.6" y2="367.6" stroke="#c4c4c4" stroke-width="1"/>
<text x="491" y="370.1" font-size="11.3" fill="#222">T</text>
<text x="498.2" y="375.6" font-size="9" fill="#262626">A</text>
<line x1="508" y1="367.6" x2="531" y2="367.6" stroke="#646464" stroke-width="1"/>
<text x="532.2" y="370.1" font-size="11.3" fill="#222">T</text>
<text x="539" y="375.6" font-size="9" fill="#262626">S</text>
</svg></body></html>
